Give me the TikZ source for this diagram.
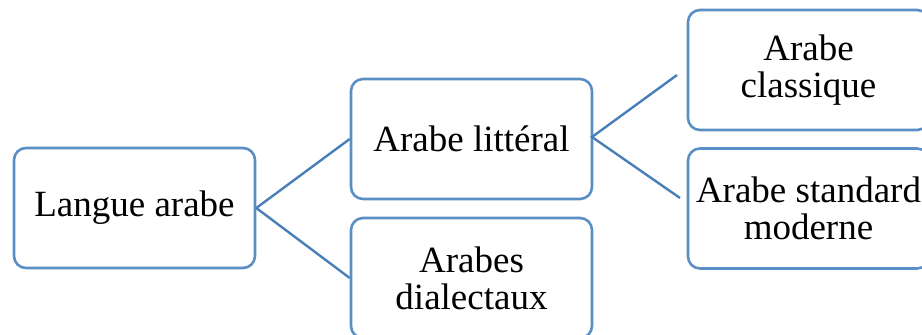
\documentclass[tikz,border=0pt]{standalone}
\usepackage{fontspec}
\setmainfont{Liberation Serif}
\definecolor{boxblue}{HTML}{5A8FC6}
\definecolor{lineblue}{HTML}{4A7EB9}
\begin{document}
\begin{tikzpicture}[x=1pt,y=-1pt,
  box/.style={draw=boxblue, line width=2.6pt, rounded corners=12pt, fill=white,
    minimum width=241pt, minimum height=120pt, inner sep=0pt, align=center,
    font=\fontsize{37}{37}\selectfont},
  conn/.style={draw=lineblue, line width=2.4pt}]
\clip (0,0) rectangle (922,335);
\node[box] (lang) at (134.5,208) {Langue arabe};
\node[box] (litt) at (471.5,139) {Arabe littéral};
\node[box] (dial) at (471.5,278) {Arabes\\dialectaux};
\node[box] (clas) at (808.5,70) {Arabe\\classique};
\node[box] (std) at (808.5,208.5) {Arabe standard\\moderne};
\coordinate (lx) at (592,137);
\coordinate (c1) at (677,75);
\coordinate (c2) at (680,198);
\draw[conn] (dial.west) -- (lang.east) -- (litt.west);
\draw[conn] (c1) -- (lx) -- (c2);
\end{tikzpicture}
\end{document}
